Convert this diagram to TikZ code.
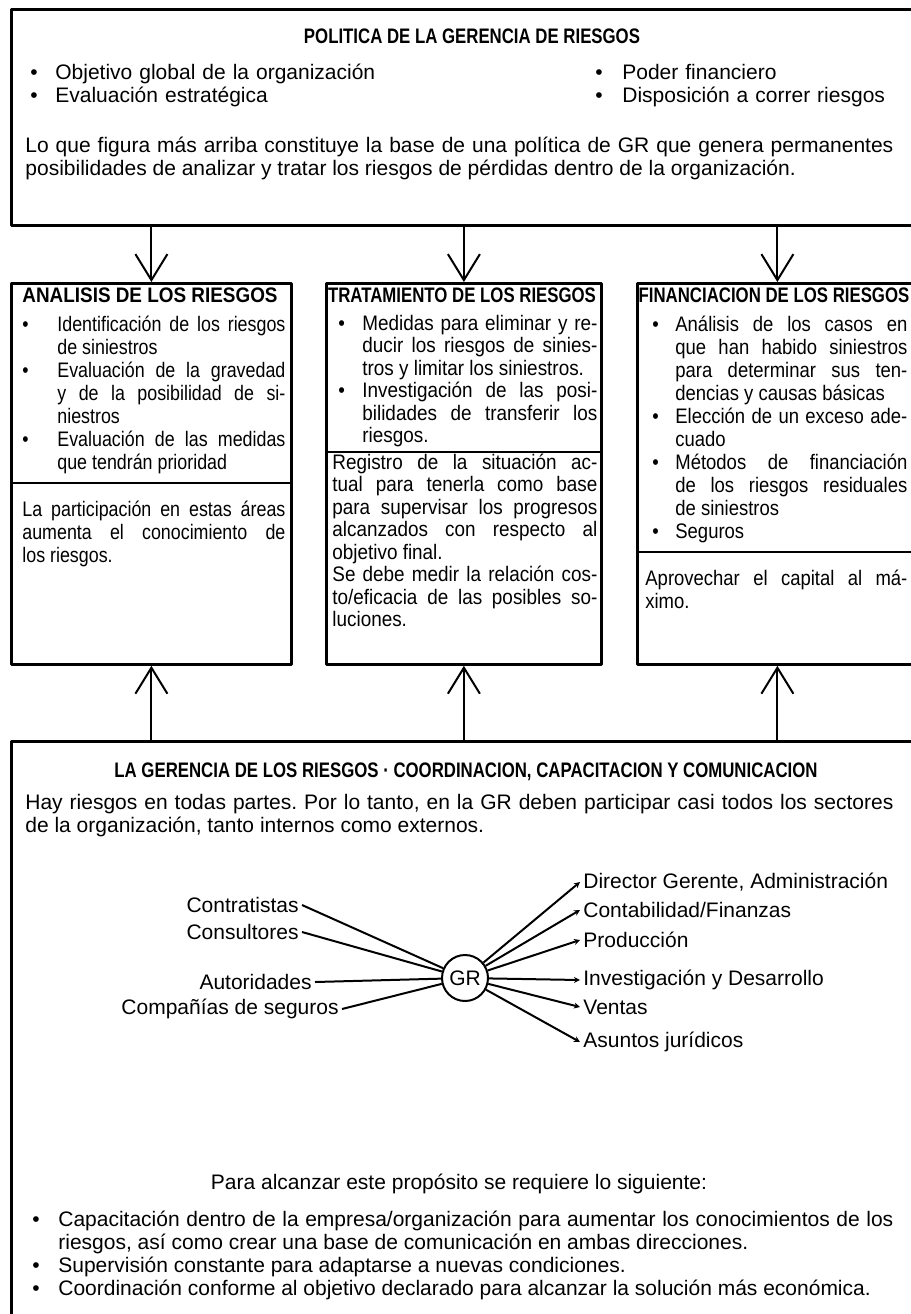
\documentclass[tikz,border=0pt]{standalone}
\usepackage{graphicx}
\usepackage{fontspec}
\setmainfont{Liberation Sans}
\newfontfamily\narrowfont[FakeStretch=0.9]{Liberation Sans}
\newfontfamily\condfont[FakeStretch=0.85]{Liberation Sans}
\newfontfamily\finfont[FakeStretch=0.88]{Liberation Sans}
\usepackage{tikz}
\usetikzlibrary{arrows.meta}
\usetikzlibrary{positioning}
\newcommand{\hd}[2]{\scalebox{#1}[1]{\bfseries #2}}
\newcommand{\itm}[2]{\noindent\hangindent=#1\hangafter=1\makebox[#1][l]{\strut\textbullet}#2\par}
\newcommand{\para}[1]{\noindent\strut #1\par}
\newcommand{\setbody}{\fontsize{10.5}{11.5}\selectfont\frenchspacing\tolerance=10000\hbadness=10000\emergencystretch=0pt}
\newcommand{\settight}{\fontsize{10.5}{11.25}\selectfont\frenchspacing\tolerance=10000\hbadness=10000\emergencystretch=0pt}

\begin{document}
\begin{tikzpicture}[x=0.5pt,y=-0.5pt,line join=round]
\tikzstyle{box}=[draw,line width=1.4pt,anchor=north west,inner sep=0pt]
\tikzstyle{txt}=[anchor=north west,inner sep=0pt,align=justify,font=\setbody]
\tikzstyle{head}=[anchor=base,inner sep=0pt,font=\fontsize{10.5}{12}\selectfont]
\tikzstyle{arr}=[-{Straight Barb[length=13pt,width=16pt]},line width=1pt]
\tikzstyle{spoke}=[line width=1pt]
\tikzstyle{lbl}=[inner sep=1.5pt,font=\fontsize{10.5}{12}\selectfont]
\useasboundingbox (0,0) rectangle (911,1314);

% boxes
\node[box,minimum width=453pt,minimum height=108pt]	(pol)	at (10,8)	{};
\node[box,minimum width=140pt,minimum height=190.5pt]	(ana)	at (10,282)	{};
\node[box,minimum width=137.5pt,minimum height=190.5pt]	(tra)	at (325,282)	{};
\node[box,minimum width=140pt,minimum height=190.5pt]	(fin)	at (636,282)	{};
\node[box,minimum width=453pt,minimum height=300pt]	(ger)	at (10,740)	{};
\draw[line width=1.2pt] (ana.west |- 0,483) -- (ana.east |- 0,483);
\draw[line width=1.2pt] (tra.west |- 0,452) -- (tra.east |- 0,452);
\draw[line width=1.2pt] (fin.west |- 0,552) -- (fin.east |- 0,552);
\foreach \b in {ana,tra,fin} {
  \draw[arr] (pol.south -| \b.north) -- (\b.north);
  \draw[arr] (ger.north -| \b.south) -- (\b.south);
}

% politica
\node[head]	(polt)	at (472,43)	{\hd{0.8}{POLITICA DE LA GERENCIA DE RIESGOS}};
\node[txt,text width=250pt,align=left]	(pol1)	at (30,63)	{\itm{12.5pt}{Objetivo global de la organización}\itm{12.5pt}{Evaluación estratégica}};
\node[txt,text width=170pt,align=left]	(pol2)	at (595,63)	{\itm{13.5pt}{Poder financiero}\itm{13.5pt}{Disposición a correr riesgos}};
\node[txt,text width=434pt]	(pol3)	at (25,136)	{\para{Lo que figura más arriba constituye la base de una política de GR que genera permanentes\linebreak posibilidades de analizar y tratar los riesgos de pérdidas dentro de la organización.}};

% analisis
\node[head]	(anat)	at (150,302)	{\hd{0.9}{ANALISIS DE LOS RIESGOS}};
\node[txt,text width=131.5pt,font=\condfont\setbody]	(ana1)	at (22,315)	{\itm{17.5pt}{Identificación de los riesgos\linebreak de siniestros}\itm{17.5pt}{Evaluación de la gravedad\linebreak y de la posibilidad de si-\linebreak niestros}\itm{17.5pt}{Evaluación de las medidas\linebreak que tendrán prioridad}};
\node[txt,text width=131.5pt,font=\condfont\setbody]	(ana2)	at (22,500)	{\para{La participación en estas áreas\linebreak aumenta el conocimiento de\linebreak los riesgos.}};

% tratamiento
\node[head]	(trat)	at (462,302)	{\hd{0.8}{TRATAMIENTO DE LOS RIESGOS}};
\node[txt,text width=129.5pt,font=\narrowfont\settight]	(tra1)	at (338,314)	{\itm{12pt}{Medidas para eliminar y re-\linebreak ducir los riesgos de sinies-\linebreak tros y limitar los siniestros.}\itm{12pt}{Investigación de las posi-\linebreak bilidades de transferir los\linebreak riesgos.}};
\node[txt,text width=132.5pt,font=\narrowfont\settight]	(tra2)	at (332,453)	{\para{Registro de la situación ac-\linebreak tual para tenerla como base\linebreak para supervisar los progresos\linebreak alcanzados con respecto al\linebreak objetivo final.}\para{Se debe medir la relación cos-\linebreak to/eficacia de las posibles so-\linebreak luciones.}};

% financiacion
\node[head]	(fint)	at (774,302)	{\hd{0.8}{FINANCIACION DE LOS RIESGOS}};
\node[txt,text width=127.5pt,font=\finfont\setbody]	(fin1)	at (652,315)	{\itm{11.5pt}{Análisis de los casos en\linebreak que han habido siniestros\linebreak para determinar sus ten-\linebreak dencias y causas básicas}\itm{11.5pt}{Elección de un exceso ade-\linebreak cuado}\itm{11.5pt}{Métodos de financiación\linebreak de los riesgos residuales\linebreak de siniestros}\itm{11.5pt}{Seguros}};
\node[txt,text width=131pt,font=\finfont\setbody]	(fin2)	at (645,569)	{\para{Aprovechar el capital al má-\linebreak ximo.}};

% gerencia
\node[head]	(gert)	at (466,777)	{\hd{0.8}{LA GERENCIA DE LOS RIESGOS · COORDINACION, CAPACITACION Y COMUNICACION}};
\node[txt,text width=434pt]	(ger1)	at (25,793)	{\para{Hay riesgos en todas partes. Por lo tanto, en la GR deben participar casi todos los sectores\linebreak de la organización, tanto internos como externos.}};
\node[draw,circle,line width=1pt,minimum size=23pt,inner sep=0pt,font=\fontsize{10.5}{12}\selectfont]	(gr)	at (465,978)	{GR};
\node[lbl,anchor=east]	(con)	at (302,905)	{Contratistas};
\node[lbl,anchor=east]	(cns)	at (302,932)	{Consultores};
\node[lbl,anchor=east]	(aut)	at (315,982)	{Autoridades};
\node[lbl,anchor=east]	(cia)	at (342,1009)	{Compañías de seguros};
\node[lbl,anchor=west]	(dir)	at (580,882)	{Director Gerente, Administración};
\node[lbl,anchor=west]	(cfi)	at (580,910)	{Contabilidad/Finanzas};
\node[lbl,anchor=west]	(pro)	at (580,940)	{Producción};
\node[lbl,anchor=west]	(inv)	at (580,980)	{Investigación y Desarrollo};
\node[lbl,anchor=west]	(ven)	at (580,1007)	{Ventas};
\node[lbl,anchor=west]	(jur)	at (580,1042)	{Asuntos jurídicos};
\path[spoke]	(con.east)	edge	(gr)
		(cns.east)	edge	(gr)
		(aut.east)	edge	(gr)
		(cia.east)	edge	(gr);
\path[spoke,-{Stealth[length=3pt,width=3pt]}]	(gr)	edge	(dir.west)
		(gr)	edge	(cfi.west)
		(gr)	edge	(pro.west)
		(gr)	edge	(inv.west)
		(gr)	edge	(ven.west)
		(gr)	edge	(jur.west);
\node[anchor=base,font=\fontsize{10.5}{11.5}\selectfont]	(req)	at (459,1189)	{Para alcanzar este propósito se requiere lo siguiente:};
\node[txt,text width=430.5pt]	(ger2)	at (32,1210)	{\itm{13pt}{Capacitación dentro de la empresa/organización para aumentar los conocimientos de los\linebreak riesgos, así como crear una base de comunicación en ambas direcciones.}\itm{13pt}{Supervisión constante para adaptarse a nuevas condiciones.}\itm{13pt}{Coordinación conforme al objetivo declarado para alcanzar la solución más económica.}};
\end{tikzpicture}
\end{document}
